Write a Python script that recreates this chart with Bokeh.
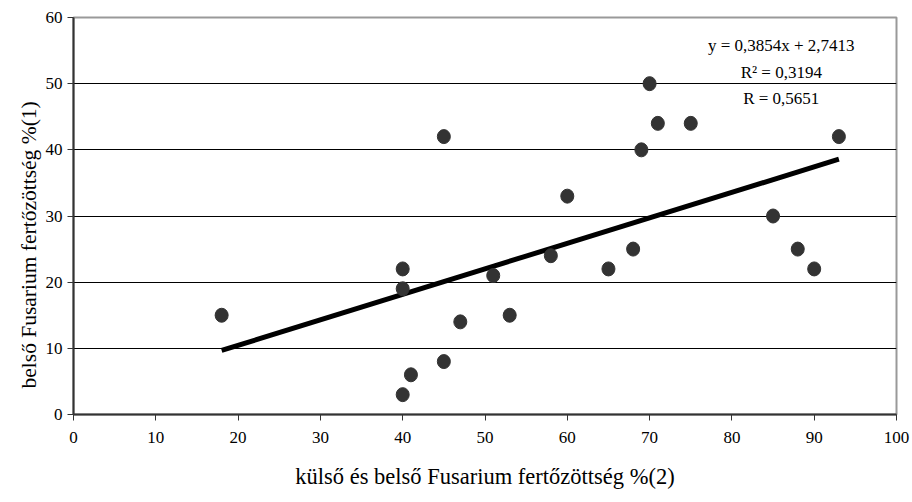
from bokeh.plotting import figure
from bokeh.models import Label, FixedTicker, Range1d, Title
from bokeh.embed import file_html
from bokeh.resources import INLINE

x_vals = [18, 40, 40, 40, 41, 45, 45, 47, 51, 53, 58, 60, 65, 68, 69, 70, 71, 75, 85, 88, 90, 93]
y_vals = [15, 3, 19, 22, 6, 8, 42, 14, 21, 15, 24, 33, 22, 25, 40, 50, 44, 44, 30, 25, 22, 42]
slope = 0.3854
intercept = 2.7413
trend_x = [min(x_vals), max(x_vals)]
trend_y = [slope * v + intercept for v in trend_x]
x_ticks = list(range(0, 101, 10))
y_ticks = list(range(0, 61, 10))
eq_lines = ["y = 0,3854x + 2,7413", "R² = 0,3194", "R = 0,5651"]
x_title = "külső és belső Fusarium fertőzöttség %(2)"
y_title = "belső Fusarium fertőzöttség %(1)"

FONT = "Liberation Serif"

p = figure(width=912, height=502, output_backend="svg", toolbar_location=None,
           x_range=Range1d(0, 100), y_range=Range1d(0, 60),
           min_border_left=73, min_border_right=16, min_border_top=17, min_border_bottom=88)
p.outline_line_color = "#999999"
p.outline_line_width = 2
p.background_fill_color = "white"
p.border_fill_color = "white"

p.xgrid.grid_line_color = None
p.ygrid.grid_line_color = "black"
p.ygrid.grid_line_width = 1
p.ygrid.ticker = FixedTicker(ticks=y_ticks[1:-1])

for ax in (p.xaxis[0], p.yaxis[0]):
    ax.axis_line_color = "#333333"
    ax.axis_line_width = 2
    ax.major_tick_line_color = "#333333"
    ax.major_tick_out = 6
    ax.major_tick_in = 0
    ax.minor_tick_line_color = None
    ax.major_label_text_font = FONT
    ax.major_label_text_font_size = "17px"
    ax.major_label_text_color = "black"
    ax.axis_label_text_font = FONT
    ax.axis_label_text_font_size = "22.5px"
    ax.axis_label_text_font_style = "normal"
    ax.axis_label_text_color = "black"

p.xaxis.ticker = FixedTicker(ticks=x_ticks)
p.yaxis.ticker = FixedTicker(ticks=y_ticks)
p.xaxis.axis_label = x_title
p.xaxis.major_label_standoff = 11
p.xaxis.axis_label_standoff = 18
p.yaxis.major_label_standoff = 5

# y title as a left-side title, starting a little above the frame bottom as in the reference
p.add_layout(Title(text=y_title, align="left", offset=26, text_font=FONT,
                   text_font_size="21.5px", text_font_style="normal", text_color="black",
                   standoff=4), "left")

p.line(trend_x, trend_y, line_color="black", line_width=5)
p.ellipse(x_vals, y_vals, width=13, height=14, width_units="screen", height_units="screen",
          fill_color="#333333", line_color="#333333")

ys = [55.8, 51.7, 47.8]
for t, yy in zip(eq_lines, ys):
    p.add_layout(Label(x=86, y=yy, text=t, text_align="center", text_baseline="middle",
                       text_font=FONT, text_font_size="17px", text_color="black"))

open("out.html", "w").write(file_html(p, INLINE))
